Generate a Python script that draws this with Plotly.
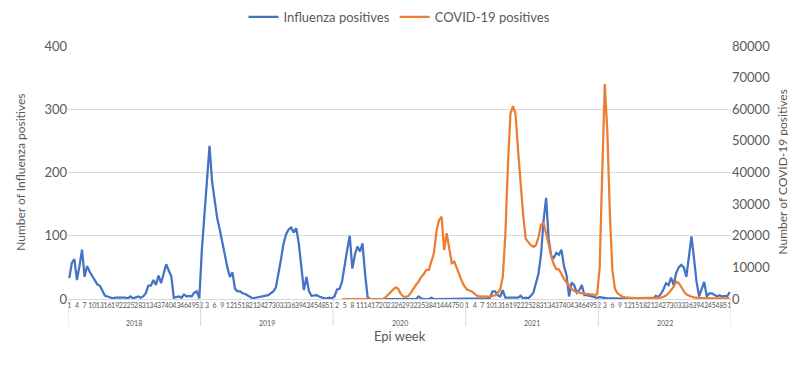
import plotly.graph_objects as go

# ---------------- data ----------------
years = ["2018", "2019", "2020", "2021", "2022"]
weeks_per_year = 52
week_labels = [str(w) for w in range(1, weeks_per_year + 1)]

flu_2018 = [33, 57, 63, 30, 52, 78, 35, 52, 43, 36, 30, 23, 21, 13, 5, 4, 3, 1, 2, 2,
            3, 2, 2, 1, 4, 1, 3, 4, 2, 4, 9, 21, 21, 30, 22, 37, 25, 40, 55, 45,
            36, 2, 3, 4, 2, 7, 4, 5, 4, 10, 12, 1]
flu_2019 = [78, 131, 186, 242, 186, 155, 128, 110, 90, 68, 50, 35, 42, 16, 12, 12, 9, 8, 6, 4,
            1, 2, 3, 4, 4, 5, 6, 9, 12, 18, 38, 62, 87, 102, 110, 113, 105, 112, 88, 50,
            14, 35, 12, 5, 5, 6, 4, 2, 1, 1, 2, 1]
flu_2020 = [4, 15, 16, 28, 55, 78, 100, 48, 70, 83, 75, 88, 40, 3, 0, 0, 0, 0, 0, 0,
            0, 0, 0, 0, 0, 0, 0, 0, 0, 0, 0, 0, 0, 4, 1, 0, 0, 0, 2, 0,
            0, 0, 0, 0, 0, 0, 0, 0, 0, 0, 0, 0]
flu_2021 = [1, 1, 1, 1, 0, 0, 1, 0, 1, 2, 12, 12, 6, 4, 14, 2, 2, 1, 1, 1,
            2, 5, 1, 2, 1, 5, 10, 25, 40, 70, 124, 160, 95, 68, 65, 73, 70, 78, 52, 38,
            4, 26, 22, 10, 14, 22, 6, 6, 5, 4, 3, 2]
flu_2022 = [3, 2, 2, 1, 1, 1, 0, 0, 0, 0, 0, 0, 0, 0, 0, 0, 0, 0, 0, 0,
            0, 0, 5, 3, 8, 15, 25, 22, 34, 22, 41, 50, 54, 50, 35, 70, 99, 64, 27, 4,
            17, 27, 4, 9, 9, 6, 4, 6, 4, 5, 4, 11]

covid_2018 = [None] * 52
covid_2019 = [None] * 52
covid_2020 = [None, None, None, 0, 0, 0, 0, 0, 0, 0, 0, 0, 0, 0, 0, 0, 0, 0, 0, 0,
              500, 1400, 2000, 3000, 3700, 3200, 1600, 800, 700, 950,
              2000, 3500, 4500, 5500, 7000, 7800, 9200, 9200, 11500, 14500,
              21500, 25000, 26000, 15500, 20800, 16500, 11300, 11800, 9500, 7300,
              5500, 4000]
covid_2021 = [3000, 2700, 2300, 1600, 1000, 800, 740, 700, 700, 750,
              950, 1200, 1900, 3000, 7000, 20000, 42000, 58500, 61000, 58500,
              47000, 36000, 26500, 19000, 17800, 17000, 16500, 17000, 19500, 23500,
              24000, 21000, 17300, 13500, 11000, 9500, 9300, 8000, 6300, 5300,
              4200, 3200, 2500, 2200, 2000, 1800, 1700, 1600, 1500, 1500,
              1300, 1500]
covid_2022 = [10000, 40000, 68000, 53000, 27000, 9000, 3200, 1800, 1100, 700,
              500, 400, 300, 300, 300, 250, 250, 250, 250, 300,
              300, 300, 350, 350, 400, 700, 1100, 1800, 2700, 3800,
              5500, 5000, 3800, 2400, 1500, 1000, 700, 500, 300, 250,
              250, 200, 200, 200, 200, 200, 200, 200, 200, 200,
              200, 200]

flu = flu_2018 + flu_2019 + flu_2020 + flu_2021 + flu_2022
covid = covid_2018 + covid_2019 + covid_2020 + covid_2021 + covid_2022
n = len(flu)
xs = list(range(n))  # category positions

BLUE = "#4472C4"
ORANGE = "#ED7D31"
TXT = "#595959"
GRID = "#D9D9D9"
FONT = "Lato, 'Liberation Sans', Arial, sans-serif"

fig = go.Figure()
fig.add_trace(go.Scatter(x=xs, y=flu, mode="lines", name="Influenza positives",
                         line=dict(color=BLUE, width=2.25), yaxis="y"))
fig.add_trace(go.Scatter(x=xs, y=covid, mode="lines", name="COVID-19 positives",
                         line=dict(color=ORANGE, width=2.25), yaxis="y2"))

tickvals = list(range(0, n, 3))
ticktext = [week_labels[i % weeks_per_year] for i in tickvals]

# page body has an 8px default margin, so the figure is sized to fit the 796x367 window
fig.update_layout(
    width=788, height=359,
    margin=dict(l=60, r=65, t=38, b=68, autoexpand=False),
    paper_bgcolor="white", plot_bgcolor="white",
    font=dict(family=FONT, color=TXT, size=13),
    showlegend=True,
    legend=dict(orientation="h", x=0.5, xanchor="center", y=1.115, yanchor="middle",
                font=dict(size=13, color=TXT), bgcolor="rgba(0,0,0,0)"),
    xaxis=dict(range=[-0.5, n - 0.5], tickmode="array", tickvals=tickvals, ticktext=ticktext,
               tickangle=0, tickfont=dict(size=7, color=TXT), showgrid=False,
               showline=True, linecolor=GRID, linewidth=1, ticks="", zeroline=False,
               automargin=False),
    yaxis=dict(range=[0, 400], dtick=100, showgrid=True, gridcolor=GRID, gridwidth=1,
               zeroline=False, showline=False, ticks="", tickfont=dict(size=13, color=TXT),
               automargin=False),
    yaxis2=dict(range=[0, 80000], dtick=10000, overlaying="y", side="right", showgrid=False,
                zeroline=False, showline=False, ticks="", tickformat="d",
                tickfont=dict(size=13, color=TXT), automargin=False),
)

# year group labels and separators under the category axis
annotations = []
shapes = []
for k, yr in enumerate(years):
    center = k * weeks_per_year + (weeks_per_year - 1) / 2
    annotations.append(dict(x=center, y=-0.095, xref="x", yref="paper", text=yr,
                            showarrow=False, font=dict(size=7, color=TXT),
                            xanchor="center", yanchor="middle"))
for k in range(len(years) + 1):
    xb = k * weeks_per_year - 0.5
    shapes.append(dict(type="line", xref="x", yref="paper", x0=xb, x1=xb, y0=0, y1=-0.107,
                       line=dict(color=GRID, width=1)))

annotations.append(dict(x=0.5, y=-0.145, xref="paper", yref="paper", text="Epi week",
                        showarrow=False, font=dict(size=13, color=TXT),
                        xanchor="center", yanchor="middle"))
annotations.append(dict(x=-0.072, y=0.5, xref="paper", yref="paper",
                        text="Number of Influenza positives", textangle=-90,
                        showarrow=False, font=dict(size=12, color=TXT),
                        xanchor="center", yanchor="middle"))
annotations.append(dict(x=1.077, y=0.5, xref="paper", yref="paper",
                        text="Number of COVID-19 positives", textangle=-90,
                        showarrow=False, font=dict(size=12, color=TXT),
                        xanchor="center", yanchor="middle"))
fig.update_layout(annotations=annotations, shapes=shapes)

fig.write_html("out.html")
